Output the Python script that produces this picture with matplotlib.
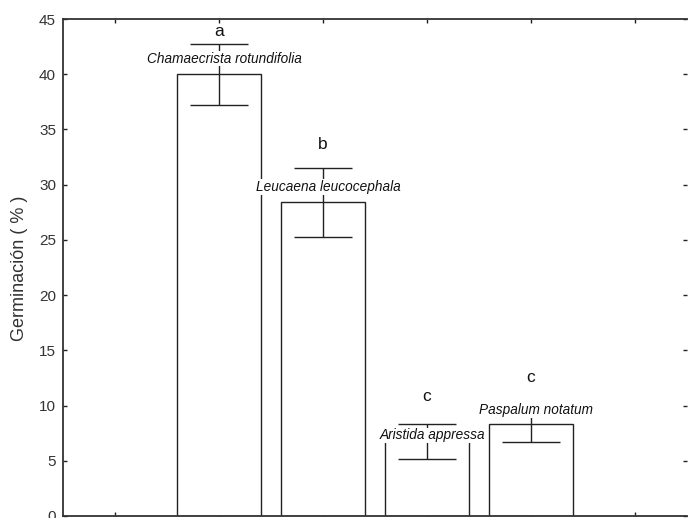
import numpy as np
import matplotlib
matplotlib.use("Agg")
import matplotlib.pyplot as plt

plt.rcParams['font.family'] = ['Liberation Sans', 'DejaVu Sans']

especies = ["Chamaecrista rotundifolia", "Leucaena leucocephala",
            "Aristida appressa", "Paspalum notatum"]
germinacion = [40.0, 28.4, 6.75, 8.3]
error = [2.75, 3.1, 1.55, 1.6]
letras = ["a", "b", "c", "c"]

# alturas de las etiquetas (en unidades del eje y)
y_especie = [41.4, 29.8, 7.3, 9.6]
y_letra = [43.9, 33.6, 10.8, 12.5]

x = np.arange(1, len(especies) + 1)

fig = plt.figure(figsize=(6.9, 5.18), dpi=100)
ax = fig.add_axes([0.0913, 0.0039, 0.9044, 0.9594])

ax.bar(x, germinacion, width=0.8, color="white", edgecolor="#222222",
       linewidth=1.0, zorder=2)
ax.errorbar(x, germinacion, yerr=error, fmt="none", ecolor="#222222",
            elinewidth=1.0, capsize=21, capthick=1.0, zorder=3)

for xi, nombre, ye in zip(x, especies, y_especie):
    ax.text(xi + 0.05, ye, nombre, ha="center", va="center", fontsize=9.8,
            style="italic", color="#111111", zorder=4,
            bbox=dict(facecolor="white", edgecolor="none", pad=0.5))
for xi, letra, yl in zip(x, letras, y_letra):
    ax.text(xi, yl, letra, ha="center", va="center", fontsize=12.5,
            color="#111111", zorder=4)

ax.set_xlim(-0.5, 5.5)
ax.set_ylim(0, 45)
ax.set_xticks(np.arange(0, 6))
ax.set_xticklabels([])
ax.set_yticks(np.arange(0, 46, 5))
ax.tick_params(direction="in", length=3, width=1, colors="#222222",
               top=True, right=True, labelsize=11, labelcolor="#333333",
               pad=5)
fig.text(20 / 690, 1 - 268 / 518, "Germinación ( % )", rotation=90,
         ha="center", va="center", fontsize=13, color="#333333")

for s in ["left", "top", "bottom"]:
    ax.spines[s].set_linewidth(1.3)
    ax.spines[s].set_color("#333333")
ax.spines["right"].set_visible(False)

fig.savefig("out.png", dpi=100)
